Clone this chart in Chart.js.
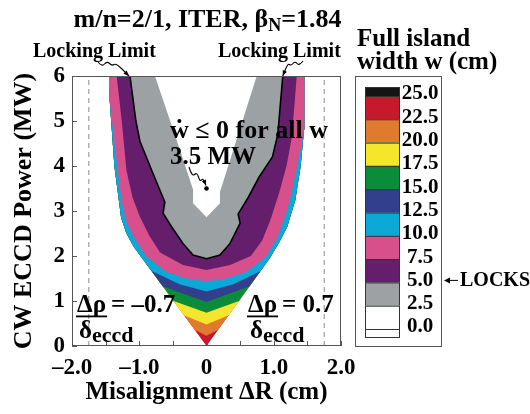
<!DOCTYPE html>
<html>
<head>
<meta charset="utf-8">
<script src="https://cdn.jsdelivr.net/npm/chart.js@4.4.0/dist/chart.umd.min.js"></script>
<style>
  html, body { margin: 0; padding: 0; background: #fff; }
  #wrap { width: 530px; height: 414px; }
</style>
</head>
<body>
<div id="wrap"><canvas id="chart" width="530" height="414"></canvas></div>
<script>
const SERIF = "'Liberation Serif', 'Times New Roman', serif";
const f = (s) => "bold " + s + "px " + SERIF;

// ---- data (x = misalignment dR in cm, y = CW ECCD power in MW) ----
const xTickValues = [-2, -1, 0, 1, 2];
const xMinorTicks = [-2, -1.5, -1, -0.5, 0, 0.5, 1, 1.5, 2];
const yTickValues = [0, 1, 2, 3, 4, 5, 6];

// legend: levels of full island width w (cm) and the swatch colours
const legendLabels = ["25.0", "22.5", "20.0", "17.5", "15.0", "12.5", "10.0", "7.5", "5.0", "2.5", "0.0"];
const legendColors = ["#141414", "#c8182c", "#e07a2f", "#f5e62c", "#0b8c3b", "#313f8d", "#0ba8d8", "#d7508c", "#651e6c", "#9ca2a4", "#ffffff", "#ffffff"];

// outer edge of the computed region (left side top -> tip, right side tip -> top)
const envelopeLeft = [[-1.45, 6.0], [-1.44, 5.47], [-1.37, 4.0], [-1.30, 3.2], [-1.27, 2.85], [-1.19, 2.5], [-1.08, 2.2], [-0.97, 1.98], [0, 0]];
const envelopeRight = [[0, 0], [0.94, 1.95], [1.08, 2.3], [1.2, 2.65], [1.32, 3.24], [1.40, 4.0], [1.45, 4.8], [1.456, 6.0]];

// contour lines of w, drawn left to right
const contour22_5 = [[-0.176, 0.36], [0, 0.23], [0.174, 0.36]];
const contour20 = [[-0.336, 0.685], [0, 0.48], [0.33, 0.685]];
const contour17_5 = [[-0.49, 1.0], [0, 0.74], [0.482, 1.0]];
const contour15 = [[-0.652, 1.33], [0, 0.98], [0.641, 1.33]];
const contour12_5 = [[-0.815, 1.665], [-0.4, 1.37], [0, 1.21], [0.4, 1.37], [0.80, 1.66]];
const contour10 = [[-1.44, 5.47], [-1.32, 3.9], [-1.26, 3.2], [-1.2, 2.8], [-1.09, 2.45], [-0.90, 2.0], [-0.6, 1.65], [-0.3, 1.5], [0, 1.44],
  [0.3, 1.5], [0.6, 1.65], [0.88, 1.98], [1.05, 2.4], [1.15, 2.8], [1.24, 3.24], [1.35, 4.0], [1.445, 4.75]];
const contour7_5 = [[-1.336, 6], [-1.26, 5.0], [-1.19, 3.9], [-1.1, 3.3], [-0.99, 2.87], [-0.85, 2.45], [-0.69, 2.08], [-0.35, 1.8], [0, 1.69],
  [0.35, 1.8], [0.66, 2.0], [0.83, 2.35], [0.95, 2.8], [1.08, 3.4], [1.19, 4.0], [1.27, 4.65], [1.342, 6]];
const contour5 = [[-1.138, 6], [-1.05, 5.0], [-0.99, 4.55], [-0.8, 3.85], [-0.62, 3.2], [-0.645, 2.95], [-0.52, 2.65], [-0.35, 2.28], [-0.2, 2.02], [0, 1.94],
  [0.2, 2.02], [0.35, 2.28], [0.5, 2.73], [0.47, 2.93], [0.62, 3.3], [0.78, 3.75], [0.98, 4.2], [1.06, 4.7], [1.134, 6]];
const contour2_5 = [[-0.766, 6], [-0.45, 4.6], [-0.2, 3.48], [-0.2, 3.17], [0, 2.86], [0.2, 3.17], [0.2, 3.42], [0.747, 6]];

const marginalPoint = [[0, 3.5]];   // w-dot <= 0 for all w at 3.5 MW
const dashedX = [-1.75, 1.75];      // d_rho / d_eccd = -0.7, 0.7

// region where w is below a contour level: contour + envelope above its ends
function regionAbove(contour) {
  const a = contour[0], b = contour[contour.length - 1];
  const right = envelopeRight.filter(p => p[1] > b[1]);
  const left = envelopeLeft.filter(p => p[1] > a[1]);
  return contour.concat(right, left).map(p => ({ x: p[0], y: p[1] }));
}
const toXY = (arr) => arr.map(p => ({ x: p[0], y: p[1] }));

function band(points, color, extra) {
  return Object.assign({
    data: points, backgroundColor: color, borderColor: "rgba(0,0,0,0)", borderWidth: 0,
    fill: "shape", pointRadius: 0, tension: 0
  }, extra || {});
}

// index 0 is drawn last (on top)
const datasets = [
  { data: toXY(marginalPoint), showLine: false, pointRadius: 2.3, pointBackgroundColor: "#000", pointBorderWidth: 0, fill: false },
  band(regionAbove(contour2_5), "#ffffff"),
  band(regionAbove(contour5), legendColors[9], { borderColor: "#000", borderWidth: 1.6 }),
  band(regionAbove(contour7_5), legendColors[8]),
  band(regionAbove(contour10), legendColors[7]),
  band(regionAbove(contour12_5), legendColors[6]),
  band(regionAbove(contour15), legendColors[5]),
  band(regionAbove(contour17_5), legendColors[4]),
  band(regionAbove(contour20), legendColors[3]),
  band(regionAbove(contour22_5), legendColors[2]),
  band(toXY(envelopeLeft.concat(envelopeRight.slice(1))), legendColors[1]),
].concat(dashedX.map(v => ({
  data: [{ x: v, y: 0 }, { x: v, y: 6 }], borderColor: "#8a8a8a", borderWidth: 1, borderDash: [5, 4], pointRadius: 0, fill: false
})));

function squiggle(ctx, pts) {
  ctx.beginPath();
  ctx.moveTo(pts[0][0], pts[0][1]);
  for (let i = 1; i < pts.length - 1; i++) {
    const mx = (pts[i][0] + pts[i + 1][0]) / 2, my = (pts[i][1] + pts[i + 1][1]) / 2;
    ctx.quadraticCurveTo(pts[i][0], pts[i][1], mx, my);
  }
  const n = pts.length;
  ctx.lineTo(pts[n - 1][0], pts[n - 1][1]);
  ctx.stroke();
  const [x1, y1] = pts[n - 2], [x2, y2] = pts[n - 1];
  const ang = Math.atan2(y2 - y1, x2 - x1);
  ctx.beginPath();
  ctx.moveTo(x2, y2);
  ctx.lineTo(x2 - 6 * Math.cos(ang - 0.38), y2 - 6 * Math.sin(ang - 0.38));
  ctx.lineTo(x2 - 6 * Math.cos(ang + 0.38), y2 - 6 * Math.sin(ang + 0.38));
  ctx.closePath();
  ctx.fill();
}

function fraction(ctx, left, rhs) {
  ctx.font = f(25);
  ctx.fillText("\u0394\u03c1", left, 312);
  const wTop = ctx.measureText("\u0394\u03c1").width;
  ctx.fillText(rhs, left + wTop + 5, 312);
  ctx.fillRect(left - 1, 315.5, wTop + 2, 1.8);
  ctx.fillText("\u03b4", left + 2, 338);
  const wd = ctx.measureText("\u03b4").width;
  ctx.font = f(22);
  ctx.fillText("eccd", left + 2 + wd, 342);
}

const annotate = {
  id: "annotate",
  afterDraw(chart) {
    const { ctx, chartArea: a, scales: { x, y } } = chart;
    ctx.save();

    // frame + inward ticks
    ctx.strokeStyle = "#555";
    ctx.lineWidth = 1;
    ctx.strokeRect(a.left + 0.5, a.top + 0.5, a.right - a.left - 1, a.bottom - a.top - 1);
    ctx.beginPath();
    xMinorTicks.forEach(v => {
      const px = Math.round(x.getPixelForValue(v)) + 0.5;
      ctx.moveTo(px, a.bottom); ctx.lineTo(px, a.bottom - 5);
    });
    yTickValues.forEach(v => {
      const py = Math.round(y.getPixelForValue(v)) + 0.5;
      ctx.moveTo(a.left, py); ctx.lineTo(a.left + 5, py);
    });
    ctx.stroke();

    // title with subscript
    ctx.fillStyle = "#000";
    ctx.strokeStyle = "#000";
    ctx.textBaseline = "alphabetic";
    ctx.textAlign = "left";
    const t1 = "m/n=2/1, ITER, \u03b2", sub = "N", t2 = "=1.84";
    ctx.font = f(26);
    const w1 = ctx.measureText(t1).width, w3 = ctx.measureText(t2).width;
    ctx.font = f(18);
    const w2 = ctx.measureText(sub).width;
    const tx = 207.5 - (w1 + w2 + w3) / 2;
    ctx.font = f(26); ctx.fillText(t1, tx, 27);
    ctx.font = f(18); ctx.fillText(sub, tx + w1, 31);
    ctx.font = f(26); ctx.fillText(t2, tx + w1 + w2, 27);

    // locking limit labels
    ctx.font = f(20);
    ctx.fillText("Locking Limit", 33, 57);
    ctx.fillText("Locking Limit", 218, 57);
    ctx.lineWidth = 1.1;
    const tipL = [x.getPixelForValue(contour5[0][0]) - 1, a.top];
    const tipR = [x.getPixelForValue(contour5[contour5.length - 1][0]), a.top];
    squiggle(ctx, [[98, 62], [102, 67], [107, 61], [112, 66], [116, 63], tipL]);
    squiggle(ctx, [[303, 61], [299, 66], [295, 61], [291, 66], [288, 63], tipR]);

    // marginal stability text
    ctx.font = f(26);
    ctx.fillText("w \u2264 0 for all w", 170, 138);
    const ww = ctx.measureText("w").width;
    ctx.beginPath(); ctx.arc(170 + ww / 2, 121, 2, 0, Math.PI * 2); ctx.fill();
    ctx.font = f(25);
    ctx.fillText("3.5 MW", 170, 164);
    const dot = [x.getPixelForValue(marginalPoint[0][0]), y.getPixelForValue(marginalPoint[0][1])];
    squiggle(ctx, [[189, 167], [192, 177], [197, 172], [200, 182], [203, 178], [dot[0] - 0.5, dot[1] - 3]]);

    // d_rho / d_eccd labels
    fraction(ctx, 77, "= \u20130.7");
    fraction(ctx, 248, "= 0.7");

    // legend
    ctx.font = f(25);
    ctx.fillText("Full island", 357, 46);
    ctx.fillText("width w (cm)", 357, 69);
    ctx.strokeStyle = "#555";
    ctx.lineWidth = 1;
    ctx.strokeRect(355.5, 76.5, 86, 270);
    const sx = 365, sw = 35;
    const tops = [87, 96];
    for (let i = 1; i <= 10; i++) tops.push(96 + i * 23.3);
    tops.push(337);
    ctx.strokeStyle = "#333";
    for (let i = 0; i < legendColors.length; i++) {
      ctx.fillStyle = legendColors[i];
      ctx.fillRect(sx, tops[i], sw, tops[i + 1] - tops[i]);
      ctx.strokeRect(sx + 0.5, tops[i] + 0.5, sw - 1, tops[i + 1] - tops[i]);
    }
    ctx.fillStyle = "#000";
    ctx.font = f(21);
    ctx.textAlign = "center";
    ctx.textBaseline = "middle";
    legendLabels.forEach((t, i) => ctx.fillText(t, 420, tops[i + 1] - 2));
    // LOCKS marker at 5.0
    const ly = tops[9] - 2;
    ctx.strokeStyle = "#000";
    ctx.beginPath(); ctx.moveTo(447, ly); ctx.lineTo(458, ly); ctx.stroke();
    ctx.beginPath(); ctx.moveTo(444, ly); ctx.lineTo(450, ly - 3); ctx.lineTo(450, ly + 3); ctx.closePath(); ctx.fill();
    ctx.textAlign = "left";
    ctx.font = f(20);
    ctx.fillText("LOCKS", 460, ly);
    ctx.restore();
  }
};

new Chart(document.getElementById("chart"), {
  type: "line",
  data: { datasets: datasets },
  options: {
    responsive: false,
    animation: false,
    devicePixelRatio: 1,
    layout: { padding: { left: 0, right: 189, top: 76, bottom: 0 } },
    plugins: { legend: { display: false }, tooltip: { enabled: false }, filler: { propagate: false } },
    elements: { line: { tension: 0 }, point: { radius: 0 } },
    scales: {
      x: {
        type: "linear", min: -2, max: 2,
        afterFit: (s) => { s.height = 68; },
        afterBuildTicks: (s) => { s.ticks = xTickValues.map(v => ({ value: v })); },
        grid: { display: false, drawTicks: false },
        border: { display: false },
        ticks: {
          color: "#000", font: { family: SERIF, size: 23, weight: "bold" }, padding: 8,
          maxRotation: 0, autoSkip: false,
          callback: (v) => v === 0 ? "0" : (v < 0 ? "\u2013" : "") + Math.abs(v).toFixed(1)
        },
        title: { display: true, text: "Misalignment \u0394R (cm)", color: "#000",
          font: { family: SERIF, size: 25, weight: "bold" }, padding: { top: 0, bottom: 6 } }
      },
      y: {
        type: "linear", min: 0, max: 6,
        afterFit: (s) => { s.width = 72; },
        afterBuildTicks: (s) => { s.ticks = yTickValues.map(v => ({ value: v })); },
        grid: { display: false, drawTicks: false },
        border: { display: false },
        ticks: { color: "#000", font: { family: SERIF, size: 23, weight: "bold" }, padding: 7 },
        title: { display: true, text: "CW ECCD Power (MW)", color: "#000",
          font: { family: SERIF, size: 26, weight: "bold" }, padding: { top: 9, bottom: 0 } }
      }
    }
  },
  plugins: [annotate]
});
</script>
</body>
</html>
